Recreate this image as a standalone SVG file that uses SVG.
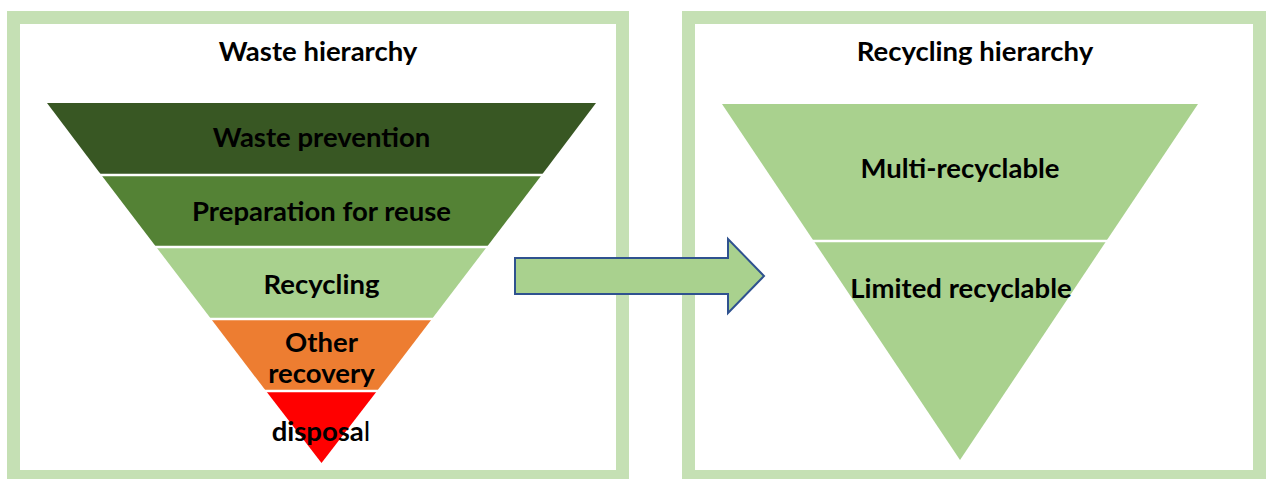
<svg xmlns="http://www.w3.org/2000/svg" width="1266" height="479" viewBox="0 0 1266 479">
<style>
.frame{fill:#FFFFFF;stroke:#C5E0B4;stroke-width:13}
.t{font-family:Lato,"Liberation Sans",sans-serif;font-weight:700;fill:#000000;text-anchor:middle;font-size:27.5px}
.sep{stroke:#FFFFFF;stroke-width:2.5}
</style>
<rect width="1266" height="479" fill="#FFFFFF"/>
<g id="waste-frame">
<rect class="frame" x="13.5" y="17.5" width="609" height="459"/>
<text class="t" x="318" y="61">Waste hierarchy</text>
</g>
<g id="recycling-frame">
<rect class="frame" x="688.5" y="17.5" width="571" height="459"/>
<text class="t" x="975" y="61">Recycling hierarchy</text>
</g>
<g id="waste-prevention">
<polygon points="47,103 596,103 541.7,175 101.3,175" fill="#385723"/>
<text class="t" x="321.5" y="147">Waste prevention</text>
</g>
<g id="preparation-for-reuse">
<polygon points="101.3,175 541.7,175 486.8,247 156.2,247" fill="#548235"/>
<text class="t" x="321.5" y="221">Preparation for reuse</text>
</g>
<g id="recycling">
<polygon points="156.2,247 486.8,247 431.9,319 211.1,319" fill="#A9D18E"/>
<text class="t" x="321.5" y="294">Recycling</text>
</g>
<g id="other-recovery">
<polygon points="211.1,319 431.9,319 377,391 266,391" fill="#ED7D31"/>
<text class="t" x="321.5" y="352">Other</text>
<text class="t" x="321.5" y="383">recovery</text>
</g>
<g id="disposal">
<polygon points="266,391 377,391 321.5,463" fill="#FF0000"/>
<text class="t" x="321" y="441">disposa<tspan font-weight="400">l</tspan></text>
</g>
<g id="multi-recyclable">
<polygon points="722,104 1198,104 1106.3,241 813.7,241" fill="#A9D18E"/>
<text class="t" x="960" y="178">Multi-recyclable</text>
</g>
<g id="limited-recyclable">
<polygon points="813.7,241 1106.3,241 960,460" fill="#A9D18E"/>
<text class="t" x="961" y="298">Limited recyclable</text>
</g>
<g id="separators">
<line class="sep" x1="90" y1="175" x2="552" y2="175"/>
<line class="sep" x1="145" y1="247" x2="497" y2="247"/>
<line class="sep" x1="200" y1="319" x2="442" y2="319"/>
<line class="sep" x1="255" y1="391" x2="388" y2="391"/>
<line class="sep" x1="800" y1="241" x2="1120" y2="241"/>
</g>
<g id="connectors">
<polygon points="515,258 728,258 728,239 764,276 728,313 728,294 515,294" fill="#A9D18E" stroke="#2F528F" stroke-width="2" stroke-linejoin="miter"/>
</g>
</svg>
